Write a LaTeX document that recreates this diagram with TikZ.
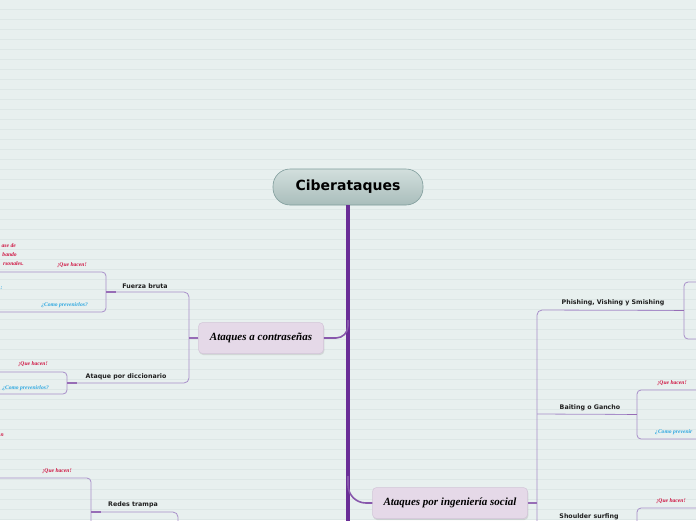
\documentclass[tikz,border=0pt]{standalone}
\usepackage{fontspec}
\setsansfont{DejaVu Sans}
\newfontfamily\titlef{DejaVu Sans}
\newfontfamily\gothf{Liberation Serif}
\newcommand{\gt}[1]{{\gothf\bfseries\itshape #1}}
\usetikzlibrary{shadows}
\definecolor{bg}{HTML}{E8F0EF}
\definecolor{rulec}{HTML}{DDE7E6}
\definecolor{trunkc}{HTML}{6A2E97}
\definecolor{brc}{HTML}{A88FC9}
\definecolor{mainf}{HTML}{E5D9E8}
\definecolor{mainb}{HTML}{D3C4D8}
\definecolor{roott}{HTML}{D2DFDD}
\definecolor{rootbot}{HTML}{A9BDBB}
\definecolor{rootb}{HTML}{7F9C9B}
\definecolor{redc}{HTML}{CF1240}
\definecolor{bluec}{HTML}{2AA6E0}
\tikzset{
  rootn/.style={draw=rootb, line width=0.6pt, rounded corners=17pt, minimum width=150pt, minimum height=36pt, top color=roott, bottom color=rootbot, font=\titlef\bfseries\fontsize{14}{15}\selectfont},
  mainn/.style={draw=mainb, fill=mainf, line width=0.5pt, rounded corners=4pt, minimum height=31pt, inner sep=0pt, font=\fontsize{11}{12}\selectfont, drop shadow={opacity=0.22, shadow xshift=0.8pt, shadow yshift=-1.5pt}},
  subn/.style={font=\sffamily\bfseries\fontsize{6.3}{7}\selectfont, text=black!88, inner sep=0.5pt},
  childbox/.style={draw=brc, line width=0.8pt, rounded corners=4pt, inner sep=0pt},
  brl/.style={draw=brc, line width=0.8pt},
  trunkl/.style={draw=trunkc, line width=4.5pt},
  redl/.style={text=redc, font=\fontsize{5.6}{6.5}\selectfont, inner sep=0pt},
  bluel/.style={text=bluec, font=\fontsize{5.6}{6.5}\selectfont, inner sep=0pt},
}
\begin{document}
\begin{tikzpicture}[x=1pt,y=-1pt]
\useasboundingbox (0,0) rectangle (696,520);
\fill[bg] (0,0) rectangle (696,520);
\foreach \yy in {10,20,...,520} \draw[rulec, line width=0.6pt] (0,\yy-0.3) -- (696,\yy-0.3);

% root and trunk
\node[rootn] (root) at (348,187) {Ciberataques};
\coordinate (trunkend) at (348,530);
\draw[trunkl] (root.south) -- (trunkend);

% main branches
\node[mainn, minimum width=125pt] (pw) at (261,338) {\gt{Ataques a contraseñas}};
\node[mainn, minimum width=155pt] (soc) at (450,503) {\gt{Ataques por ingeniería social}};
\coordinate (j1) at (348,320);
\coordinate (j2) at (348,476);
\draw[trunkc!80, line width=1.6pt, rounded corners=12pt] (j1) |- (pw.east);
\draw[trunkc!80, line width=1.6pt, rounded corners=18pt] (j2) |- (soc.west);

% left: password attacks
\node[childbox, minimum width=126pt, minimum height=40pt] (fbc) at (43,292) {};
\node[childbox, minimum width=80pt, minimum height=22pt] (dcc) at (27,383) {};
\coordinate (b1) at (189,292);
\coordinate (b2) at (189,383);
\coordinate (b3) at (189,338);
\draw[brl, rounded corners=5pt] (fbc.east) -- (b1) -- (b2) -- (dcc.east);
\draw[brl] (pw.west) -- (b3);
\draw[trunkc!70, line width=1.4pt] (fbc.east) -- ++(10,0);
\draw[trunkc!70, line width=1.4pt] (dcc.east) -- ++(10,0);
\draw[trunkc!70, line width=1.4pt] (pw.west) -- (b3);
\node[subn] (fb) at (145,286) {Fuerza bruta};
\node[subn] (dc) at (126,377) {Ataque por diccionario};

\node[redl, anchor=east] (t1) at (16,246) {\gt{ase de}};
\node[redl, anchor=east] (t2) at (17,255) {\gt{bando}};
\node[redl, anchor=east] (t3) at (24,264) {\gt{rsonales.}};
\node[redl] (q1) at (72,265) {\gt{¡Que hacen!}};
\node[bluel, anchor=east] (c1) at (88,305) {\gt{¿Como prevenirlos?}};
\node[bluel, anchor=west] (t4) at (0.5,288) {\gt{:}};
\node[redl] (q2) at (33,364) {\gt{¡Que hacen!}};
\node[bluel, anchor=east] (c2) at (49,388) {\gt{¿Como prevenirlos?}};
\node[redl, anchor=west] (t5) at (0.5,435) {\gt{n}};

% left bottom: redes trampa
\node[childbox, minimum width=102pt, minimum height=68pt] (rtc) at (40,512) {};
\coordinate (b4) at (178,512);
\coordinate (b5) at (178,540);
\draw[brl, rounded corners=5pt] (rtc.east) -- (b4) -- (b5);
\draw[trunkc!70, line width=1.4pt] (rtc.east) -- ++(10,0);
\node[subn] (rt) at (133,505) {Redes trampa};
\node[redl] (q3) at (57,471) {\gt{¡Que hacen!}};

% right: social engineering
\node[childbox, minimum width=60pt, minimum height=57pt] (phc) at (714,310.5) {};
\node[childbox, minimum width=80pt, minimum height=49pt] (bac) at (677,414.5) {};
\node[childbox, minimum width=80pt, minimum height=34pt] (shc) at (677,525) {};
\coordinate (r1) at (537,310);
\coordinate (r2) at (537,540);
\coordinate (r3) at (537,503);
\coordinate (r4) at (537,414);
\coordinate (r5) at (537,525);
\draw[brl, rounded corners=5pt] (phc.west) -- (r1) -- (r2);
\draw[brl] (soc.east) -- (r3);
\draw[brl] (bac.west) -- (r4);
\draw[brl] (shc.west) -- (r5);
\draw[trunkc!70, line width=1.4pt] (soc.east) -- (r3);
\draw[trunkc!70, line width=1.4pt] (phc.west) -- ++(-10,0);
\draw[trunkc!70, line width=1.4pt] (bac.west) -- ++(-10,0);
\node[subn] (ph) at (613,303) {Phishing, Vishing y Smishing};
\node[subn] (ba) at (590,408) {Baiting o Gancho};
\node[subn] (sh) at (589,517) {Shoulder surfing};
\node[redl] (q4) at (672,383) {\gt{¡Que hacen!}};
\node[bluel, anchor=west] (c4) at (655,432) {\gt{¿Como prevenir}};
\node[redl] (q5) at (671,501) {\gt{¡Que hacen!}};
\end{tikzpicture}
\end{document}
